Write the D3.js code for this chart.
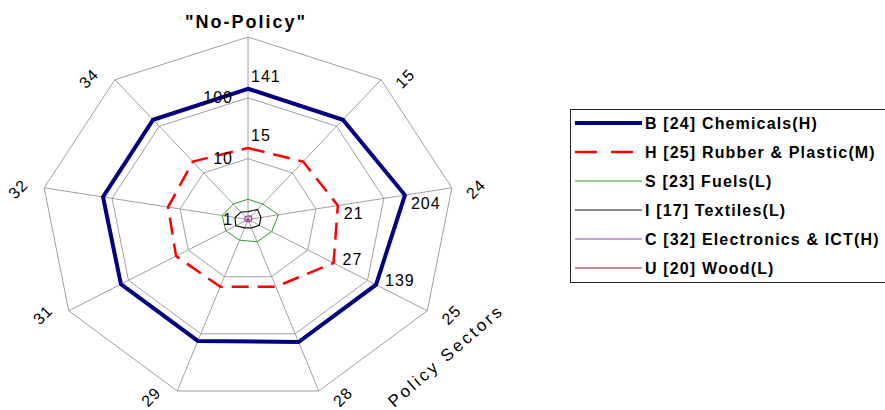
<!DOCTYPE html>
<html><head><meta charset="utf-8">
<script src="https://cdn.jsdelivr.net/npm/d3@7"></script>
<style>body{margin:0;background:#fff} svg{display:block;font-family:Arial,"Liberation Sans",sans-serif}</style>
</head><body><svg id="c" width="885" height="410"></svg>
<script>
// ---- data ----
const categories = ["", "15", "24", "25", "28", "29", "31", "32", "34"];
const chemicals   = [141, 138, 204, 139, 139, 133, 134, 136, 138];
const rubber      = [15, 17.5, 21, 27, 15, 15, 16, 15, 17.5];
const fuels       = [2.15, 2.15, 2.8, 2.5, 2.45, 2.3, 2.35, 2.4, 2.15];
const textiles    = [1.35, 1.65, 1.55, 1.55, 1.4, 1.4, 1.6, 1.55, 1.45];
const electronics = [1.15, 1.18, 1.15, 1.12, 1.1, 1.1, 1.12, 1.12, 1.15];
const wood        = [1.03, 1.03, 1.03, 1.03, 1.03, 1.03, 1.03, 1.03, 1.03];
const seriesNames = ["B [24] Chemicals(H)", "H [25] Rubber & Plastic(M)", "S [23] Fuels(L)",
                     "I [17] Textiles(L)", "C [32] Electronics & ICT(H)", "U [20] Wood(L)"];
const ringValues = [10, 100, 1000];
const tickLabels = [1, 10, 100];
const labelledAxes = [0, 2, 3];
const title = "\"No-Policy\"";
const axisTitle = "Policy Sectors";

// ---- styles ----
const seriesData = [chemicals, rubber, fuels, textiles, electronics, wood];
const styles = [
  {color:"#000080", width:4, dash:null},
  {color:"#ff0000", width:2.5, dash:"17,9"},
  {color:"#2e9a2e", width:1, dash:null},
  {color:"#111111", width:1.2, dash:null},
  {color:"#a040b0", width:1.2, dash:null},
  {color:"#8b1a1a", width:1, dash:null}
];

const svg = d3.select("#c");
const cx = 248, cy = 219.5, Rx = 207, Ry = 182.5;
const r = d3.scaleLog().domain([1, 1000]).range([0, 1]);
const ang = d3.scaleLinear().domain([0, categories.length]).range([0, 2 * Math.PI]);
function pt(i, v) {
  const a = ang(i), t = r(v);
  return [cx + t * Rx * Math.sin(a), cy - t * Ry * Math.cos(a)];
}
const closed = d3.line().curve(d3.curveLinearClosed);

// grid
const g = svg.append("g");
ringValues.forEach(v => {
  g.append("path").attr("d", closed(categories.map((c, i) => pt(i, v))))
    .attr("fill", "none").attr("stroke", "#a0a0a0").attr("stroke-width", 1);
});
categories.forEach((c, i) => {
  const p = pt(i, 1000);
  g.append("line").attr("x1", cx).attr("y1", cy).attr("x2", p[0]).attr("y2", p[1])
    .attr("stroke", "#a0a0a0").attr("stroke-width", 1);
});

// series (draw last series first so Chemicals is on top)
for (let s = seriesData.length - 1; s >= 0; s--) {
  const st = styles[s];
  svg.append("path").attr("d", closed(seriesData[s].map((v, i) => pt(i, v))))
    .attr("fill", "none").attr("stroke", st.color).attr("stroke-width", st.width)
    .attr("stroke-dasharray", st.dash).attr("stroke-linejoin", "miter");
}

// tick labels
tickLabels.forEach(v => {
  svg.append("text").attr("x", cx - 15).attr("y", pt(0, v)[1])
    .attr("text-anchor", "end").attr("dominant-baseline", "central")
    .attr("font-size", 16).attr("letter-spacing", 1).attr("fill", "#000").text(v);
});

// data labels
const labelOffset = {0: [3, -12], 2: [6, 8], 3: [9, -4]};
[chemicals, rubber].forEach(arr => {
  labelledAxes.forEach(i => {
    const p = pt(i, arr[i]);
    svg.append("text").attr("x", p[0] + labelOffset[i][0]).attr("y", p[1] + labelOffset[i][1])
      .attr("dominant-baseline", "central").attr("font-size", 16).attr("letter-spacing", 1)
      .attr("fill", "#000").text(arr[i]);
  });
});

// category labels
categories.forEach((c, i) => {
  const a = ang(i), p = pt(i, 1000);
  const sx = Math.sin(a);
  const dx = Math.abs(sx) < 1e-6 ? 0 : Math.sign(sx) * 24;
  const x = p[0] + dx - (sx < 0 ? 2 : 0), y = p[1] + 2 - 4 * Math.cos(a);
  svg.append("text").attr("transform", `translate(${x},${y}) rotate(-45)`)
    .attr("text-anchor", "middle").attr("dominant-baseline", "central")
    .attr("font-size", 16).attr("letter-spacing", 1).attr("fill", "#000").text(c);
});

// title
svg.append("text").attr("x", 246).attr("y", 28).attr("text-anchor", "middle")
  .attr("font-size", 18).attr("font-weight", "bold").attr("letter-spacing", 2)
  .attr("fill", "#000").text(title);

// axis title
svg.append("text").attr("transform", "translate(446,356) rotate(-41)")
  .attr("text-anchor", "middle").attr("dominant-baseline", "central")
  .attr("font-size", 17).attr("letter-spacing", 2.8).attr("fill", "#000").text(axisTitle);

// legend
const lg = svg.append("g");
lg.append("rect").attr("x", 570.5).attr("y", 109.5).attr("width", 330).attr("height", 173)
  .attr("fill", "#fff").attr("stroke", "#222").attr("stroke-width", 1);
const rowY = d3.scalePoint().domain(seriesNames).range([123, 268]);
seriesNames.forEach((n, s) => {
  const st = styles[s], y = rowY(n);
  lg.append("line").attr("x1", 575).attr("x2", 642).attr("y1", y).attr("y2", y)
    .attr("stroke", st.color).attr("stroke-width", st.width)
    .attr("stroke-dasharray", st.dash ? "22,14" : null);
  lg.append("text").attr("x", 645).attr("y", y).attr("dominant-baseline", "central")
    .attr("font-size", 16).attr("font-weight", "bold").attr("letter-spacing", 1.15)
    .attr("fill", "#000").text(n);
});
</script></body></html>
